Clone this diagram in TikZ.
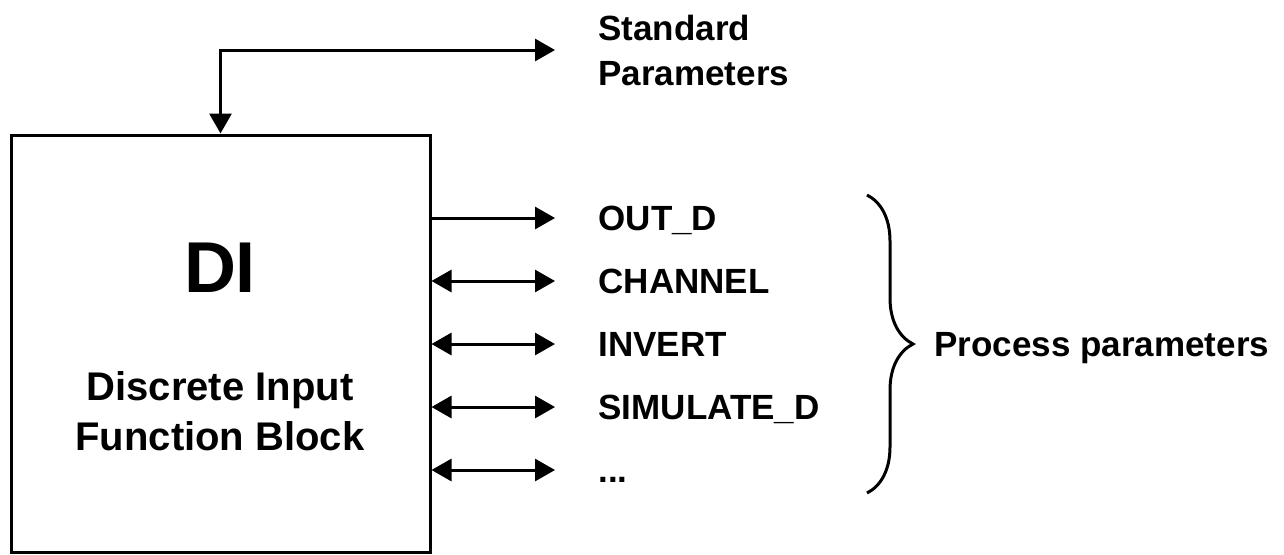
\documentclass[tikz,border=0pt]{standalone}
\usepackage{fontspec}
\setmainfont{Liberation Sans}
\usetikzlibrary{arrows.meta,positioning,decorations.pathreplacing}

\begin{document}
\begin{tikzpicture}[
  x=0.5pt, y=-0.5pt, line width=1.5pt,
  font=\bfseries\fontsize{17.5}{22.5}\selectfont,
  blockbox/.style={draw, minimum width=209.5pt, minimum height=208.5pt, inner sep=0pt},
  paramlbl/.style={anchor=west, inner xsep=21pt, inner ysep=0pt, text height=12.5pt, text depth=0pt},
  >={Triangle[length=10pt,width=11pt]}]
\useasboundingbox (0,0) rectangle (1284,554);
% function block
\node[blockbox] (di) at (220.5,343.5) {};
\node[anchor=base, font=\bfseries\fontsize{36}{40}\selectfont] (ditag) at (220,292) {DI};
\node[anchor=north, align=center, inner sep=0pt, font=\bfseries\fontsize{20}{25}\selectfont] (didesc) at (220,370) {Discrete Input\\Function Block};
% parameters
\node[anchor=west, inner xsep=21pt, align=left] (std) at (555,50) {Standard\\Parameters};
\node[paramlbl] (outd) at (555,218) {OUT\_D};
\node[paramlbl] (chan) at (555,281) {CHANNEL};
\node[paramlbl] (inv) at (555,344) {INVERT};
\node[paramlbl] (simd) at (555,407) {SIMULATE\_D};
\node[paramlbl] (more) at (555,470) {...};
\draw[<->] (di.north) |- (std.west);
\draw[->] (di.east |- outd.west) -- (outd.west);
\draw[<->] (di.east |- chan.west) -- (chan.west);
\draw[<->] (di.east |- inv.west) -- (inv.west);
\draw[<->] (di.east |- simd.west) -- (simd.west);
\draw[<->] (di.east |- more.west) -- (more.west);
% grouping brace
\coordinate (bracetop) at (867,195);
\coordinate (bracebot) at (867,493);
\draw[decorate, decoration={brace, amplitude=23pt}] (bracetop) -- (bracebot);
\node[paramlbl, inner xsep=0pt] (proc) at (933,344) {Process parameters};
\end{tikzpicture}
\end{document}
